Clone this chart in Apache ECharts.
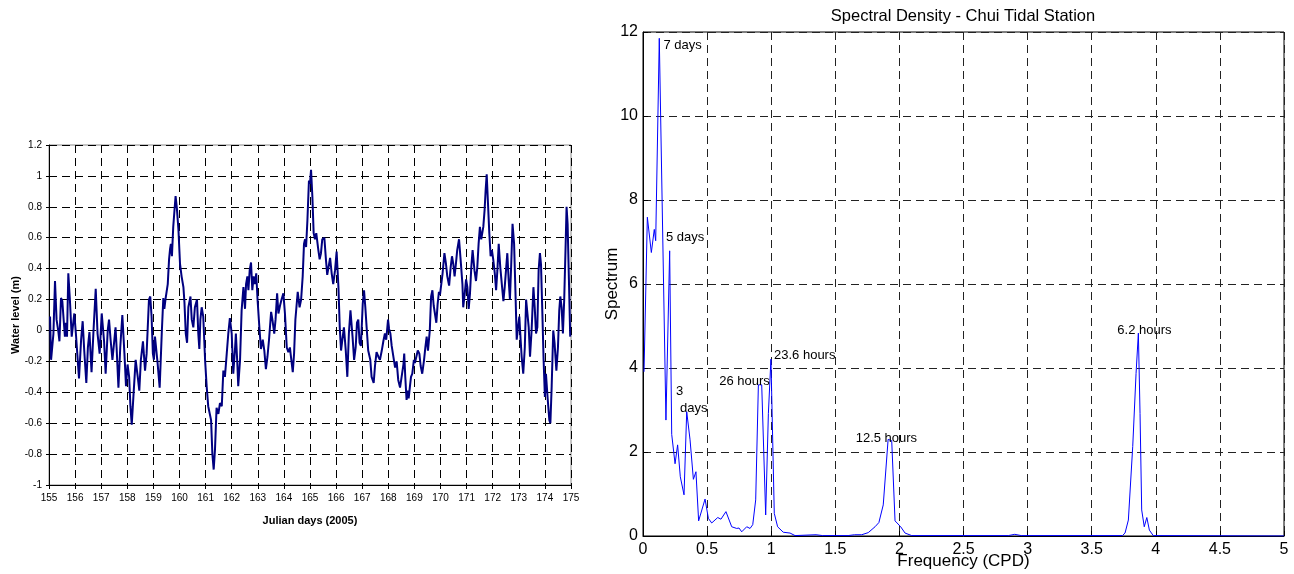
<!DOCTYPE html>
<html>
<head>
<meta charset="utf-8">
<title>Chui Tidal Station</title>
<script src="https://cdn.jsdelivr.net/npm/echarts@6/dist/echarts.min.js"></script>
<style>
  html, body { margin: 0; padding: 0; background: #fff; }
  #chart { width: 1294px; height: 574px; }
</style>
</head>
<body>
<div id="chart"></div>
<script>
// water level record, julian days 155-175 (2005)
var levelDays = [
  155.04,155.08,155.17,155.23,155.29,155.36,155.40,155.46,155.51,155.57,
  155.61,155.65,155.69,155.74,155.80,155.87,155.93,155.97,156.03,156.10,
  156.15,156.23,156.29,156.35,156.43,156.49,156.55,156.63,156.70,156.79,
  156.86,156.94,157.02,157.07,157.11,157.17,157.25,157.30,157.36,157.43,
  157.48,157.55,157.59,157.66,157.73,157.81,157.89,157.95,158.01,158.07,
  158.12,158.17,158.24,158.32,158.40,158.46,158.52,158.60,158.68,158.74,
  158.83,158.88,158.93,158.98,159.02,159.06,159.11,159.16,159.24,159.32,
  159.38,159.42,159.47,159.51,159.55,159.60,159.64,159.67,159.71,159.76,
  159.80,159.85,159.90,159.96,160.02,160.08,160.15,160.19,160.24,160.29,
  160.34,160.42,160.47,160.53,160.59,160.67,160.72,160.76,160.80,160.85,
  160.91,160.98,161.04,161.10,161.16,161.21,161.26,161.31,161.36,161.42,161.49,
  161.55,161.62,161.68,161.74,161.81,161.87,161.93,162.00,162.06,162.13,
  162.16,162.22,162.25,162.32,162.38,162.45,162.51,162.55,162.60,162.64,
  162.69,162.74,162.79,162.84,162.89,162.94,162.99,163.06,163.12,163.19,
  163.25,163.31,163.37,163.43,163.51,163.56,163.63,163.68,163.74,163.79,
  163.85,163.91,163.98,164.04,164.11,164.17,164.23,164.27,164.34,164.39,
  164.44,164.48,164.53,164.60,164.66,164.72,164.77,164.81,164.85,164.90,
  164.96,165.00,165.04,165.09,165.14,165.19,165.24,165.32,165.37,165.42,
  165.47,165.55,165.61,165.66,165.72,165.77,165.83,165.89,165.96,166.02,
  166.09,166.14,166.19,166.24,166.30,166.37,166.43,166.49,166.55,166.60,
  166.63,166.69,166.75,166.80,166.85,166.90,166.95,167.02,167.07,167.12,
  167.17,167.23,167.31,167.36,167.44,167.49,167.55,167.62,167.68,167.75,
  167.81,167.87,167.92,167.99,168.03,168.08,168.13,168.26,168.32,168.38,
  168.45,168.51,168.58,168.61,168.65,168.70,168.74,168.78,168.83,168.87,
  168.92,168.98,169.02,169.06,169.13,169.19,169.24,169.30,169.37,169.42,
  169.47,169.52,169.59,169.64,169.69,169.74,169.79,169.84,169.89,169.94,
  169.98,170.03,170.08,170.15,170.21,170.26,170.33,170.39,170.44,170.49,
  170.54,170.59,170.64,170.71,170.77,170.84,170.87,170.93,170.98,171.03,
  171.08,171.13,171.18,171.23,171.30,171.36,171.41,171.46,171.51,171.56,
  171.60,171.64,171.69,171.73,171.77,171.82,171.87,171.92,171.97,172.02,
  172.08,172.13,172.18,172.23,172.29,172.36,172.41,172.46,172.51,172.56,
  172.61,172.66,172.71,172.76,172.82,172.87,172.92,172.97,173.02,173.07,
  173.11,173.17,173.23,173.28,173.33,173.38,173.43,173.49,173.56,173.61,
  173.66,173.71,173.76,173.81,173.85,173.90,173.95,174.00,174.04,174.11,
  174.17,174.21,174.26,174.32,174.37,174.44,174.50,174.55,174.59,174.64,
  174.69,174.74,174.80,174.83,174.87,174.92,174.97
];
var waterLevel = [
  0.09,-0.19,-0.02,0.32,0.07,-0.01,-0.07,0.21,0.19,0.05,
  -0.04,0.05,-0.04,0.37,0.20,-0.04,0.05,0.11,-0.02,-0.19,
  -0.31,-0.06,0.06,-0.13,-0.34,-0.11,-0.01,-0.27,-0.02,0.27,
  -0.02,-0.15,0.11,0.11,-0.07,-0.28,0.00,0.07,-0.06,-0.19,
  -0.19,0.02,-0.11,-0.37,-0.11,0.10,-0.15,-0.36,-0.22,-0.30,
  -0.49,-0.61,-0.41,-0.19,-0.30,-0.39,-0.19,-0.07,-0.26,-0.15,
  0.20,0.22,0.09,-0.15,-0.19,-0.04,-0.04,-0.21,-0.37,-0.02,
  0.21,0.14,0.21,0.22,0.30,0.46,0.53,0.56,0.48,0.67,
  0.76,0.87,0.79,0.65,0.43,0.35,0.28,0.18,-0.02,-0.08,
  0.15,0.22,0.07,0.02,0.15,0.20,-0.02,-0.12,0.07,0.15,
  0.09,-0.19,-0.36,-0.49,-0.50,-0.58,-0.80,-0.90,-0.77,-0.50,-0.54,
  -0.47,-0.49,-0.26,-0.30,-0.15,-0.02,0.08,-0.02,-0.28,-0.11,
  -0.02,-0.23,-0.36,-0.19,0.13,0.28,0.14,0.30,0.35,0.26,
  0.39,0.44,0.26,0.35,0.30,0.37,0.20,0.02,-0.12,-0.06,
  -0.13,-0.25,-0.17,-0.06,0.12,0.07,-0.02,0.07,0.24,0.11,
  0.16,0.20,0.24,0.11,-0.11,-0.14,-0.11,-0.17,-0.27,-0.15,
  0.07,0.15,0.25,0.15,0.20,0.35,0.56,0.59,0.54,0.71,
  0.97,0.95,1.04,0.87,0.63,0.59,0.63,0.52,0.46,0.50,
  0.59,0.60,0.46,0.36,0.37,0.47,0.37,0.30,0.39,0.51,
  0.28,0.02,-0.13,-0.06,0.02,-0.13,-0.30,-0.02,0.13,0.12,
  -0.04,-0.19,-0.11,0.05,0.07,-0.08,-0.10,0.17,0.26,0.15,
  0.02,-0.13,-0.19,-0.30,-0.34,-0.23,-0.14,-0.17,-0.19,-0.13,
  -0.07,-0.02,-0.06,0.07,0.01,-0.02,-0.10,-0.24,-0.20,-0.32,
  -0.37,-0.36,-0.22,-0.15,-0.30,-0.45,-0.39,-0.44,-0.36,-0.30,
  -0.28,-0.19,-0.21,-0.18,-0.13,-0.15,-0.23,-0.28,-0.19,-0.11,
  -0.04,-0.13,0.00,0.22,0.26,0.16,0.15,0.05,0.17,0.25,
  0.23,0.24,0.37,0.50,0.43,0.35,0.29,0.41,0.48,0.43,
  0.35,0.43,0.52,0.59,0.46,0.30,0.15,0.24,0.33,0.28,
  0.14,0.24,0.41,0.52,0.39,0.32,0.41,0.56,0.67,0.59,
  0.63,0.67,0.78,0.91,1.01,0.82,0.63,0.48,0.52,0.46,
  0.37,0.26,0.39,0.56,0.41,0.28,0.19,0.28,0.39,0.50,
  0.33,0.20,0.43,0.69,0.56,0.26,-0.06,0.02,0.09,-0.06,
  -0.17,-0.28,-0.11,0.20,0.21,0.02,-0.17,0.00,0.28,0.15,
  -0.02,0.02,0.39,0.50,0.43,0.13,-0.19,-0.43,-0.28,-0.45,
  -0.58,-0.60,-0.36,0.00,-0.08,-0.26,-0.11,0.13,0.22,0.15,
  -0.02,0.20,0.59,0.80,0.69,0.33,-0.04
];

// spectral density
var frequency = [
  0.008,0.034,0.065,0.088,0.099,0.127,0.179,0.208,0.224,0.25,
  0.27,0.291,0.32,0.341,0.367,0.393,0.413,0.434,0.484,0.51,
  0.536,0.583,0.608,0.647,0.692,0.731,0.749,0.77,0.809,0.835,
  0.856,0.879,0.90,0.926,0.957,0.978,0.998,1.024,1.05,1.094,
  1.147,1.186,1.35,1.40,1.60,1.65,1.706,1.757,1.81,1.84,
  1.874,1.912,1.94,1.966,2.01,2.044,2.096,2.85,2.90,2.95,
  3.74,3.76,3.786,3.82,3.846,3.864,3.877,3.89,3.91,3.93,
  3.95,3.98,5.0
];
var spectrum = [
  3.91,7.59,6.75,7.30,7.03,11.85,2.76,6.79,2.42,1.72,
  2.17,1.41,0.98,2.96,2.29,1.35,1.53,0.36,0.88,0.42,
  0.31,0.44,0.40,0.58,0.22,0.18,0.19,0.10,0.22,0.18,
  0.27,0.86,3.60,3.60,0.50,2.92,4.21,0.54,0.22,0.09,
  0.07,0.01,0.03,0.01,0.01,0.03,0.03,0.08,0.22,0.32,
  0.74,2.30,2.27,0.36,0.22,0.07,0.01,0.01,0.04,0.01,
  0.01,0.07,0.38,2.13,3.87,4.83,2.92,0.62,0.22,0.44,
  0.14,0.01,0.00
];

// period labels next to the peaks
var peakLabels = ['7 days', '5 days', '3', 'days', '26 hours', '23.6 hours', '12.5 hours', '6.2 hours'];
var peakLabelFreq = [0.159, 0.179, 0.257, 0.289, 0.595, 1.022, 1.659, 3.70];
var peakLabelSpec = [11.67, 7.10, 3.44, 3.04, 3.69, 4.29, 2.33, 4.89];

var FONT = 'Liberation Sans, Arial, sans-serif';
var chart = echarts.init(document.getElementById('chart'));

var levelPoints = levelDays.map(function (d, i) { return [d, waterLevel[i]]; });
var specPoints = frequency.map(function (f, i) { return [f, spectrum[i]]; });
var marks = peakLabels.map(function (t, i) {
  return { name: t, coord: [peakLabelFreq[i], peakLabelSpec[i]] };
});

var dashed = { show: true, lineStyle: { color: '#000', type: [8, 5], width: 1 } };

var option = {
  animation: false,
  textStyle: { fontFamily: FONT },
  grid: [
    { left: 49, top: 145, width: 522, height: 340, outerBoundsMode: 'none', containLabel: false,
      show: true, borderColor: '#8a8a8a', borderWidth: 1 },
    { left: 643, top: 32, width: 641, height: 504, outerBoundsMode: 'none', containLabel: false,
      show: true, borderColor: '#000', borderWidth: 1 }
  ],
  xAxis: [
    {
      gridIndex: 0, type: 'value', min: 155, max: 175, interval: 1,
      name: 'Julian days (2005)', nameLocation: 'middle', nameGap: 30, nameMoveOverlap: false,
      nameTextStyle: { fontSize: 11, fontWeight: 'bold', color: '#000', fontFamily: FONT },
      axisLine: { onZero: false, lineStyle: { color: '#000', width: 1 } },
      axisTick: { show: true, length: 4, lineStyle: { color: '#000' } },
      axisLabel: { fontSize: 10, color: '#000', margin: 8, fontFamily: FONT },
      splitLine: dashed
    },
    {
      gridIndex: 1, type: 'value', min: 0, max: 5, interval: 0.5,
      name: 'Frequency (CPD)', nameLocation: 'middle', nameGap: 17, nameMoveOverlap: false,
      nameTextStyle: { fontSize: 17, color: '#000', fontFamily: FONT },
      axisLine: { onZero: false, lineStyle: { color: '#000', width: 1 } },
      axisTick: { show: true, inside: true, length: 5, lineStyle: { color: '#000' } },
      axisLabel: { fontSize: 16, color: '#000', margin: 6, fontFamily: FONT },
      splitLine: { show: true, lineStyle: { color: '#222', type: [8, 5], width: 1 } }
    }
  ],
  yAxis: [
    {
      gridIndex: 0, type: 'value', min: -1, max: 1.2, interval: 0.2,
      name: 'Water level (m)', nameLocation: 'middle', nameGap: 28, nameMoveOverlap: false,
      nameTextStyle: { fontSize: 11, fontWeight: 'bold', color: '#000', fontFamily: FONT },
      axisLine: { show: true, lineStyle: { color: '#000', width: 1 } },
      axisTick: { show: true, length: 3, lineStyle: { color: '#000' } },
      axisLabel: { fontSize: 10, color: '#000', margin: 7, fontFamily: FONT },
      splitLine: dashed
    },
    {
      gridIndex: 1, type: 'value', min: 0, max: 12, interval: 2,
      name: 'Spectrum', nameLocation: 'middle', nameGap: 22, nameMoveOverlap: false,
      nameTextStyle: { fontSize: 17, color: '#000', fontFamily: FONT },
      axisLine: { show: true, lineStyle: { color: '#000', width: 1 } },
      axisTick: { show: true, inside: true, length: 5, lineStyle: { color: '#000' } },
      axisLabel: { fontSize: 16, color: '#000', margin: 5, fontFamily: FONT },
      splitLine: { show: true, lineStyle: { color: '#222', type: [8, 5], width: 1 } }
    }
  ],
  graphic: [
    {
      type: 'text', x: 963, y: 16,
      style: {
        text: 'Spectral Density - Chui Tidal Station',
        fontSize: 16.5, fontFamily: FONT, fill: '#000',
        textAlign: 'center', textVerticalAlign: 'middle'
      }
    }
  ],
  series: [
    {
      name: 'Water level', type: 'line', xAxisIndex: 0, yAxisIndex: 0,
      data: levelPoints, showSymbol: false, symbol: 'none',
      lineStyle: { color: '#000080', width: 2 }
    },
    {
      name: 'Spectrum', type: 'line', xAxisIndex: 1, yAxisIndex: 1,
      data: specPoints, showSymbol: false, symbol: 'none',
      lineStyle: { color: '#0000ff', width: 1 },
      markPoint: {
        symbol: 'circle', symbolSize: 0,
        label: {
          show: true, position: 'right', distance: 0, formatter: '{b}',
          fontSize: 13, color: '#000', fontFamily: FONT
        },
        data: marks
      }
    }
  ]
};

chart.setOption(option);
</script>
</body>
</html>
